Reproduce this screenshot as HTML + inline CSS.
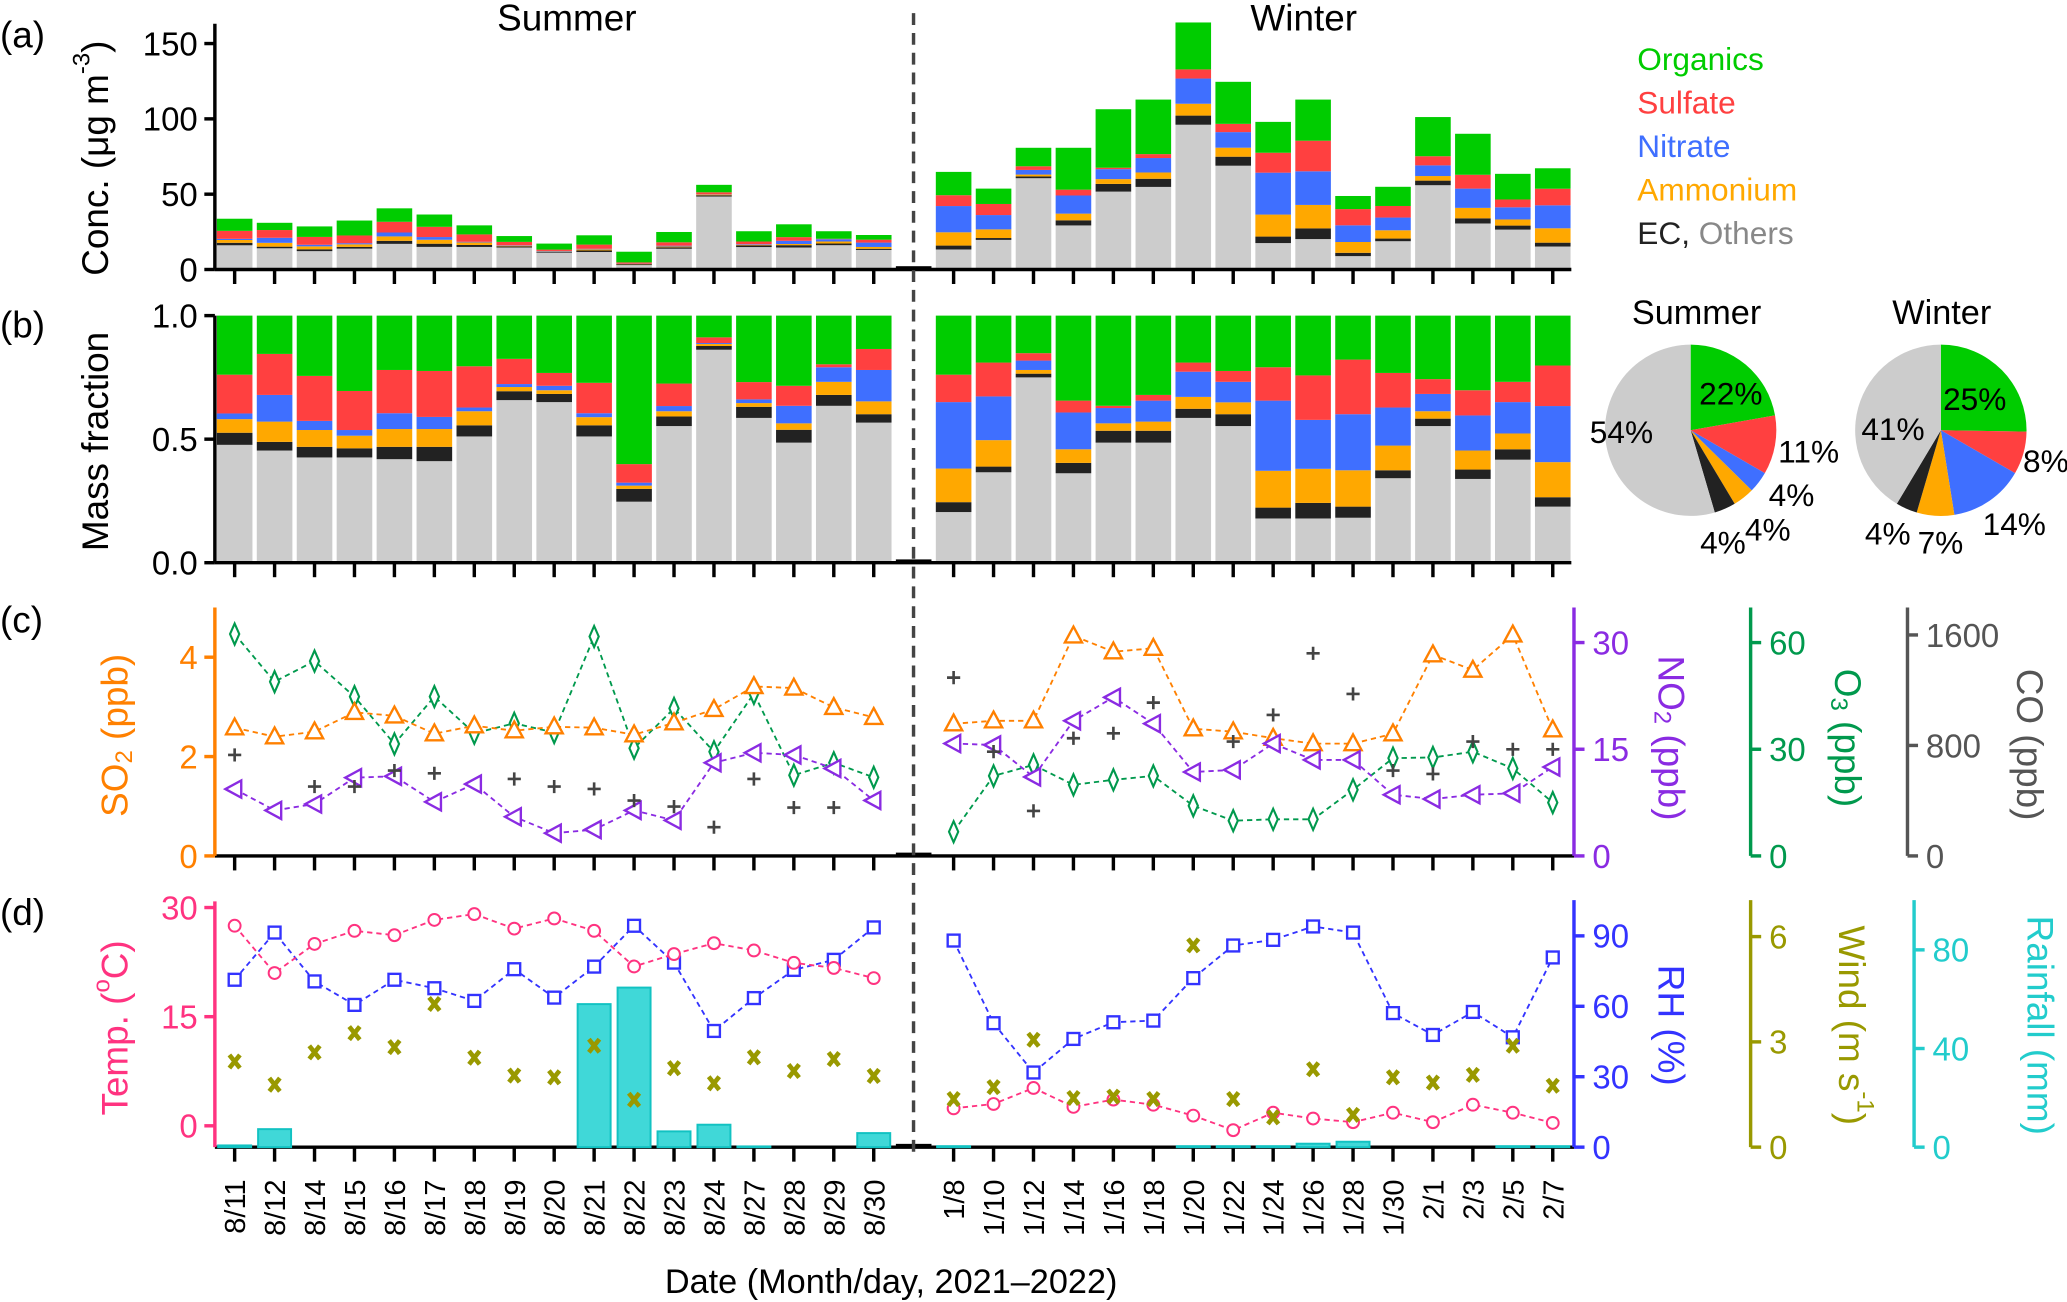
<!DOCTYPE html>
<html><head><meta charset="utf-8"><style>
html,body{margin:0;padding:0;background:#fff;}
svg{display:block;font-family:"Liberation Sans",Arial,sans-serif;}
</style></head><body>
<svg id="fig" width="2067" height="1302" viewBox="0 0 1568 988" preserveAspectRatio="none" xmlns="http://www.w3.org/2000/svg">
<rect x="0" y="0" width="1568" height="988" fill="#fff"/>
<g id="layer"></g>
</svg>
<script>
// ---------- data ----------
const summerDates = ["8/11","8/12","8/14","8/15","8/16","8/17","8/18","8/19","8/20","8/21","8/22","8/23","8/24","8/27","8/28","8/29","8/30"];
const winterDates = ["1/8","1/10","1/12","1/14","1/16","1/18","1/20","1/22","1/24","1/26","1/28","1/30","2/1","2/3","2/5","2/7"];
const species = ["Others","EC","Ammonium","Nitrate","Sulfate","Organics"];
const totalSummer = [33.7,31.0,28.6,32.5,40.6,36.5,29.3,22.2,17.2,22.7,11.8,24.9,56.2,25.4,30.0,25.4,22.9];
const totalWinter = [64.8,53.7,80.8,80.8,106.4,112.8,164,124.6,98.0,112.8,48.8,54.9,101.2,90.1,63.5,67.2];
// mass fractions per day: [Others, EC, NH4, NO3, SO4, Org]
const fracSummer = [
[.477,.049,.055,.023,.157,.239],[.454,.035,.082,.108,.166,.155],[.426,.043,.068,.037,.182,.244],
[.426,.037,.051,.023,.158,.305],[.419,.050,.072,.064,.175,.220],[.411,.058,.072,.049,.186,.224],
[.511,.045,.057,.015,.167,.205],[.658,.036,.017,.012,.102,.175],[.650,.033,.015,.018,.052,.232],
[.511,.045,.033,.016,.123,.272],[.247,.052,.013,.012,.075,.601],[.553,.039,.021,.021,.091,.275],
[.862,.015,.008,.004,.023,.088],[.586,.045,.015,.015,.070,.269],[.486,.052,.026,.071,.081,.284],
[.635,.044,.053,.059,.012,.197],[.567,.034,.052,.127,.085,.135]];
const fracWinter = [
[.205,.040,.136,.269,.111,.239],[.366,.023,.107,.177,.137,.190],[.750,.015,.015,.038,.030,.152],
[.362,.042,.055,.149,.048,.344],[.486,.048,.030,.062,.009,.365],[.486,.048,.037,.085,.023,.321],
[.586,.037,.048,.102,.037,.190],[.553,.048,.048,.083,.044,.224],[.179,.044,.149,.284,.135,.209],
[.179,.063,.138,.198,.180,.242],[.182,.045,.147,.227,.221,.178],[.342,.032,.100,.154,.140,.232],
[.553,.030,.030,.070,.060,.257],[.339,.038,.077,.142,.102,.302],[.417,.042,.064,.127,.082,.268],
[.227,.038,.142,.227,.164,.202]];
const pieSummer = [22,11,4,4,4,54]; // Org, SO4, NO3, NH4, EC, Others
const pieWinter = [25,8,14,7,4,41];
const so2Summer = [2.58,2.40,2.50,2.89,2.82,2.46,2.62,2.52,2.60,2.58,2.44,2.68,2.95,3.41,3.38,2.99,2.79];
const so2Winter = [2.66,2.72,2.72,4.43,4.11,4.18,2.56,2.50,2.37,2.26,2.26,2.46,4.05,3.74,4.45,2.54];
const no2Summer = [9.4,6.4,7.3,11.0,11.2,7.6,10.1,5.5,3.2,3.7,6.4,5.0,13.1,14.5,14.2,12.3,7.8];
const no2Winter = [15.8,15.6,11.1,19.0,22.3,18.6,11.8,12.1,15.8,13.5,13.5,8.6,8.0,8.6,8.8,12.5];
const o3Summer = [62.4,49.0,54.8,44.8,31.5,44.8,34.5,37.3,34.7,61.7,30.3,41.5,29.3,45.7,22.7,26.2,22.1];
const o3Winter = [6.8,22.5,25.6,20.0,21.4,22.5,14.1,9.9,10.3,10.3,18.6,27.5,27.7,29.3,24.6,15.0];
const coSummer = [731,null,502,502,618,598,null,557,502,485,401,357,208,557,350,350,null];
const coWinter = [1291,755,326,852,888,1110,null,828,1021,1467,1173,618,594,828,772,772];
const tempSummer = [27.5,21.0,25.0,26.8,26.2,28.3,29.1,27.1,28.5,26.8,21.9,23.6,25.1,24.1,22.4,21.7,20.3];
const tempWinter = [2.4,3.0,5.2,2.6,3.6,2.9,1.4,-0.6,1.8,1.0,0.5,1.8,0.5,2.9,1.8,0.4];
const rhSummer = [71.3,91.4,70.6,60.6,71.3,67.7,62.3,75.8,63.7,76.9,94.3,78.6,49.5,63.5,75.5,79.8,93.6];
const rhWinter = [88.0,52.8,31.8,46.1,53.2,53.9,72.0,85.9,88.3,94.0,91.4,57.1,47.8,57.6,46.8,80.8];
const windSummer = [2.44,1.78,2.70,3.25,2.85,4.08,2.55,2.04,1.99,2.89,1.35,2.25,1.82,2.56,2.17,2.51,2.03];
const windWinter = [1.37,1.71,3.06,1.40,1.44,1.37,5.75,1.37,0.85,2.22,0.92,1.99,1.84,2.06,2.89,1.75];
const rainSummer = [0.7,7.3,0,0,0,0,0,0,0,58,64.7,6.4,9.1,0.3,0,0,5.7];
const rainWinter = [0.4,0,0,0,0,0,0.4,0.4,0.4,1.4,2.2,0,0,0,0.4,0.4];
const ticksA = [0,50,100,150];
const ticksB = [0,0.5,1.0];
const ticksSO2 = [0,2,4];
const ticksNO2 = [0,15,30];
const ticksO3 = [0,30,60];
const ticksCO = [0,800,1600];
const ticksT = [0,15,30];
const ticksRH = [0,30,60,90];
const ticksW = [0,3,6];
const ticksR = [0,40,80];

// ---------- scales ----------
const xPos = i => 178 + 30.3*i;
const xS = i => xPos(i);
const xW = i => xPos(i+18);
const yA = v => 204.5 - v*1.143;
const yB = v => 427 - v*187.5;
const ySO2 = v => 649.5 - v*37.7;
const yNO2 = v => 649.5 - v*5.397;
const yO3 = v => 649.5 - v*2.698;
const yCO = v => 649.5 - v*0.1048;
const yT = v => 854.3 - v*5.521;
const yRH = v => 870.5 - v*1.7815;
const yW = v => 870.5 - v*26.63;
const yR = v => 870.5 - v*1.8715;

const COL = {Others:"#cccccc",EC:"#222222",Ammonium:"#ffa800",Nitrate:"#3f6fff",Sulfate:"#ff4040",Organics:"#00cc00"};
const NS = "http://www.w3.org/2000/svg";
const root = document.getElementById('layer');
function mk(tag, attrs, parent){
  const e = document.createElementNS(NS, tag);
  for (const k in attrs) e.setAttribute(k, attrs[k]);
  (parent||root).appendChild(e);
  return e;
}
function txt(s, attrs, parent){ const t = mk('text', attrs, parent); t.textContent = s; return t; }

// ---------- panel (a) & (b) stacked bars ----------
function stacks(frac, tot, xf, season, panel){
  const g = mk('g', {});
  
  
  frac.forEach((f, i) => {
    let cum = 0;
    const sum = f.reduce((a,b)=>a+b,0);
    f.forEach((v, k) => {
      const val = panel==='a' ? v/sum*tot[i] : v/sum;
      const sc = panel==='a' ? yA : yB;
      const y1 = sc(cum), y2 = sc(cum+val);
      const r = mk('rect', {x: xf(i)-13.5, y: y2, width: 27, height: Math.max(0,y1-y2), fill: COL[species[k]]}, g);
      
      
      cum += val;
    });
  });
}
stacks(fracSummer, totalSummer, xS, 'summer', 'a');
stacks(fracWinter, totalWinter, xW, 'winter', 'a');
stacks(fracSummer, totalSummer, xS, 'summer', 'b');
stacks(fracWinter, totalWinter, xW, 'winter', 'b');

// axes helpers
function bottomAxis(y, name, x2){
  const g = mk('g', {});
  
  
  mk('line', {x1:163, y1:y, x2:x2, y2:y, stroke:'#000', 'stroke-width':2.6}, g);
  mk('rect', {x:xPos(17)-13.5, y:y-2.5, width:27, height:3.5, fill:'#000'}, g);
  for (let i=0;i<34;i++){ if(i===17) continue;
    mk('line', {x1:xPos(i), y1:y, x2:xPos(i), y2:y+11, stroke:'#000', 'stroke-width':2.6}, g); }
}
function leftAxis(top, bottom, ticks, sc, color, name, fmt){
  const g = mk('g', {});
  
  
  mk('line', {x1:163, y1:top, x2:163, y2:bottom, stroke:color, 'stroke-width':2.6}, g);
  ticks.forEach(t => {
    mk('line', {x1:155, y1:sc(t), x2:163, y2:sc(t), stroke:color, 'stroke-width':2.6}, g);
    const l = txt(fmt?fmt(t):String(t), {x:150, y:sc(t)+9, 'text-anchor':'end', 'font-size':25, fill:color}, g);
    
    
  });
}
function rightAxis(x, top, bottom, ticks, sc, color, name){
  const g = mk('g', {});
  
  
  mk('line', {x1:x, y1:top, x2:x, y2:bottom, stroke:color, 'stroke-width':2.6}, g);
  ticks.forEach(t => {
    mk('line', {x1:x, y1:sc(t), x2:x+8, y2:sc(t), stroke:color, 'stroke-width':2.6}, g);
    const l = txt(String(t), {x:x+14, y:sc(t)+9, 'font-size':25, fill:color}, g);
    
    
  });
}
bottomAxis(204.5, 'x-axis-a', 1192);
bottomAxis(427, 'x-axis-b', 1192);
bottomAxis(649.5, 'x-axis-c', 1194);
bottomAxis(870.5, 'x-axis-d', 1194);
leftAxis(18, 204.5, ticksA, yA, '#000', 'y-axis-a');
leftAxis(239.5, 427, ticksB, yB, '#000', 'y-axis-b', t=>t.toFixed(1));
leftAxis(461, 649.5, ticksSO2, ySO2, '#ff8000', 'y-axis-so2');
leftAxis(684, 870.5, ticksT, yT, '#ff3380', 'y-axis-temp');
rightAxis(1194, 461, 649.5, ticksNO2, yNO2, '#8a2be2', 'y-axis-no2');
rightAxis(1328, 461, 649.5, ticksO3, yO3, '#00994d', 'y-axis-o3');
rightAxis(1447, 461, 649.5, ticksCO, yCO, '#555555', 'y-axis-co');
rightAxis(1194, 683, 870.5, ticksRH, yRH, '#3333ff', 'y-axis-rh');
rightAxis(1328, 683, 870.5, ticksW, yW, '#999900', 'y-axis-wind');
rightAxis(1452, 683, 870.5, ticksR, yR, '#22cccc', 'y-axis-rain');

// ---------- rainfall bars ----------
function rain(vals, xf, season){
  vals.forEach((v,i)=>{
    if(!v) return;
    const r = mk('rect', {x:xf(i)-12.5, y:yR(v), width:25, height:870.5-yR(v), fill:'#40d8d8', stroke:'#12c2c2', 'stroke-width':1.5});
    
    
  });
}
rain(rainSummer, xS, 'summer');
rain(rainWinter, xW, 'winter');

// ---------- line series ----------
function marker(kind, x, y, color, g){
  if(kind==='triUp') return mk('path',{d:`M${x},${y-7}L${x+6.5},${y+5}L${x-6.5},${y+5}Z`,fill:'#fff',stroke:color,'stroke-width':1.8},g);
  if(kind==='triLeft') return mk('path',{d:`M${x-7},${y}L${x+5},${y-6.5}L${x+5},${y+6.5}Z`,fill:'#fff',stroke:color,'stroke-width':1.8},g);
  if(kind==='diamond') return mk('path',{d:`M${x},${y-8}L${x+3.5},${y}L${x},${y+8}L${x-3.5},${y}Z`,fill:'#fff',stroke:color,'stroke-width':1.6},g);
  if(kind==='plus') return mk('path',{d:`M${x-5},${y}H${x+5}M${x},${y-5}V${y+5}`,stroke:color,'stroke-width':2},g);
  if(kind==='circle') return mk('circle',{cx:x,cy:y,r:4.5,fill:'#fff',stroke:color,'stroke-width':1.5},g);
  if(kind==='square') return mk('rect',{x:x-4.5,y:y-4.5,width:9,height:9,fill:'#fff',stroke:color,'stroke-width':1.8},g);
  if(kind==='cross') return mk('path',{d:`M${x-4},${y-5}L${x+4},${y+5}M${x+4},${y-5}L${x-4},${y+5}`,stroke:color,'stroke-width':3.5},g);
}
function series(vals, xf, sc, color, kind, line, name){
  const g = mk('g', {});
  
  
  if(line){
    let d='', pen=false;
    vals.forEach((v,i)=>{ if(v===null){pen=false;return;} d += (pen?'L':'M')+xf(i)+','+sc(v); pen=true; });
    mk('path',{d:d,fill:'none',stroke:color,'stroke-width':1.4,'stroke-dasharray':'4,3'},g);
  }
  vals.forEach((v,i)=>{ if(v===null) return;
    const m = marker(kind, xf(i), sc(v), color, g);
    
    
  });
}
series(o3Summer, xS, yO3, '#00994d', 'diamond', true, 'o3-summer');
series(o3Winter, xW, yO3, '#00994d', 'diamond', true, 'o3-winter');
series(so2Summer, xS, ySO2, '#ff8000', 'triUp', true, 'so2-summer');
series(so2Winter, xW, ySO2, '#ff8000', 'triUp', true, 'so2-winter');
series(no2Summer, xS, yNO2, '#8a2be2', 'triLeft', true, 'no2-summer');
series(no2Winter, xW, yNO2, '#8a2be2', 'triLeft', true, 'no2-winter');
series(coSummer, xS, yCO, '#444444', 'plus', false, 'co-summer');
series(coWinter, xW, yCO, '#444444', 'plus', false, 'co-winter');
series(rhSummer, xS, yRH, '#3333ff', 'square', true, 'rh-summer');
series(rhWinter, xW, yRH, '#3333ff', 'square', true, 'rh-winter');
series(tempSummer, xS, yT, '#ff3380', 'circle', true, 'temp-summer');
series(tempWinter, xW, yT, '#ff3380', 'circle', true, 'temp-winter');
series(windSummer, xS, yW, '#999900', 'cross', false, 'wind-summer');
series(windWinter, xW, yW, '#999900', 'cross', false, 'wind-winter');

// ---------- dashed separator ----------
const sep = mk('line',{x1:693,y1:10,x2:693,y2:880,stroke:'#444','stroke-width':2.6,'stroke-dasharray':'9,6'});



// ---------- date labels ----------
summerDates.concat(winterDates).forEach((d,k)=>{
  const i = k<17 ? k : k+1;
  const x = xPos(i)+8, y = 895;
  const t = txt(d,{x:x,y:y,'text-anchor':'end','font-size':22,transform:`rotate(-90 ${x} ${y})`});
  
  
});

// ---------- pies ----------
const pieCols = [COL.Organics, COL.Sulfate, COL.Nitrate, COL.Ammonium, COL.EC, COL.Others];
function pie(vals, cx, cy, r, name){
  const g = mk('g', {});
  
  
  const tot = vals.reduce((a,b)=>a+b,0);
  let a0 = 0;
  vals.forEach((v,k)=>{
    const a1 = a0 + v/tot*2*Math.PI;
    const x0 = cx + r*Math.sin(a0), y0 = cy - r*Math.cos(a0);
    const x1 = cx + r*Math.sin(a1), y1 = cy - r*Math.cos(a1);
    const large = (a1-a0) > Math.PI ? 1 : 0;
    const p = mk('path',{d:`M${cx},${cy}L${x0},${y0}A${r},${r} 0 ${large} 1 ${x1},${y1}Z`,fill:pieCols[k]},g);
    
    
    a0 = a1;
  });
}
pie(pieSummer, 1282.5, 326.5, 65, 'pie-summer');
pie(pieWinter, 1472.3, 326.5, 65, 'pie-winter');
</script>
<svg width="0" height="0" style="position:absolute"></svg>
<script>
// static text
const S = document.getElementById('fig');
const NS2 = "http://www.w3.org/2000/svg";
function T(s, x, y, size, name, extra){
  const t = document.createElementNS(NS2,'text');
  t.setAttribute('x',x); t.setAttribute('y',y); t.setAttribute('font-size',size);
  for(const k in (extra||{})) t.setAttribute(k, extra[k]);
  t.textContent = s;
  
  
  S.appendChild(t); return t;
}
T('(a)',0,36,28,'panel-label-a');
T('(b)',0,256,28,'panel-label-b');
T('(c)',0,480,28,'panel-label-c');
T('(d)',0,702,28,'panel-label-d');
T('Summer',430,23,28,'summer-title',{'text-anchor':'middle'});
T('Winter',989,23,28,'winter-title',{'text-anchor':'middle'});
T('Summer',1287,246,26,'pie-summer-title',{'text-anchor':'middle'});
T('Winter',1473,246,26,'pie-winter-title',{'text-anchor':'middle'});
T('Organics',1242,53,24,'legend-organics',{fill:'#00cc00'});
T('Sulfate',1242,86,24,'legend-sulfate',{fill:'#ff4040'});
T('Nitrate',1242,119,24,'legend-nitrate',{fill:'#3f6fff'});
T('Ammonium',1242,152,24,'legend-ammonium',{fill:'#ffa800'});
const ec = T('EC, ',1242,185,24,'legend-ec-others',{fill:'#222'});
const ot = document.createElementNS(NS2,'tspan'); ot.setAttribute('fill','#888'); ot.textContent='Others'; ec.appendChild(ot);
// pie labels
[['22%',1313,307,'#000'],['54%',1230,336],['11%',1372,351],['4%',1359,384],['4%',1341,410],['4%',1307,420],
 ['25%',1498,311],['41%',1436,334],['8%',1552,358],['14%',1528,406],['7%',1472,420],['4%',1432,413]].forEach(p=>{
  T(p[0],p[1],p[2],24,'pie-label',{'text-anchor':'middle'});
});
// axis titles
function VT(parts, cx, cy, size, color, rot, name){
  const t = document.createElementNS(NS2,'text');
  t.setAttribute('x',cx); t.setAttribute('y',cy); t.setAttribute('font-size',size);
  t.setAttribute('fill',color); t.setAttribute('text-anchor','middle'); t.setAttribute('dominant-baseline','central');
  t.setAttribute('transform',`rotate(${rot} ${cx} ${cy})`);
  parts.forEach(p=>{
    const s = document.createElementNS(NS2,'tspan');
    s.textContent = p[0];
    if(p[1]==='sup'){ s.setAttribute('dy',-10); s.setAttribute('font-size',size*0.65); }
    if(p[1]==='sub'){ s.setAttribute('dy',7); s.setAttribute('font-size',size*0.65); }
    if(p[1]==='back'){ s.setAttribute('dy',p[2]); }
    t.appendChild(s);
  });
  
  
  S.appendChild(t);
}
VT([['Conc. (μg m'],['-3','sup'],[')','back',10]],72,120,28,'#000',-90,'y-axis-title-conc');
VT([['Mass fraction']],72,335,28,'#000',-90,'y-axis-title-mass-fraction');
VT([['SO'],['2','sub'],[' (ppb)','back',-7]],87,558,28,'#ff8000',-90,'y-axis-title-so2');
VT([['Temp. ('],['o','sup'],['C)','back',10]],87,780,28,'#ff3380',-90,'y-axis-title-temp');
VT([['NO'],['2','sub'],[' (ppb)','back',-7]],1268,560,28,'#8a2be2',90,'y-axis-title-no2');
VT([['O'],['3','sub'],[' (ppb)','back',-7]],1402,560,28,'#00994d',90,'y-axis-title-o3');
VT([['CO (ppb)']],1540,565,28,'#555555',90,'y-axis-title-co');
VT([['RH (%)']],1268,778,28,'#3333ff',90,'y-axis-title-rh');
VT([['Wind (m s'],['-1','sup'],[')','back',10]],1405,778,28,'#999900',90,'y-axis-title-wind');
VT([['Rainfall (mm)']],1548,778,28,'#22cccc',90,'y-axis-title-rain');
T('Date (Month/day, 2021–2022)',676,981,26,'x-axis-title',{'text-anchor':'middle'});
</script>
</body></html>
